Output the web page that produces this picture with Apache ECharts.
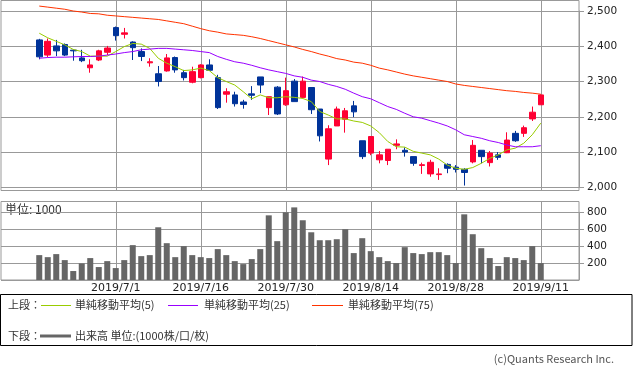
<!DOCTYPE html>
<html><head><meta charset="utf-8">
<script src="https://cdn.jsdelivr.net/npm/echarts@6/dist/echarts.min.js"></script>
<style>html,body{margin:0;padding:0;background:#fff}#c{width:633px;height:373px}</style>
</head><body><div id="c"></div>
<script>
const dates = ['2019/6/18','2019/6/19','2019/6/20','2019/6/21','2019/6/24','2019/6/25','2019/6/26','2019/6/27','2019/6/28',
'2019/7/1','2019/7/2','2019/7/3','2019/7/4','2019/7/5','2019/7/8','2019/7/9','2019/7/10','2019/7/11','2019/7/12',
'2019/7/16','2019/7/17','2019/7/18','2019/7/19','2019/7/22','2019/7/23','2019/7/24','2019/7/25','2019/7/26','2019/7/29',
'2019/7/30','2019/7/31','2019/8/1','2019/8/2','2019/8/5','2019/8/6','2019/8/7','2019/8/8','2019/8/9','2019/8/13',
'2019/8/14','2019/8/15','2019/8/16','2019/8/19','2019/8/20','2019/8/21','2019/8/22','2019/8/23','2019/8/26','2019/8/27',
'2019/8/28','2019/8/29','2019/8/30','2019/9/2','2019/9/3','2019/9/4','2019/9/5','2019/9/6','2019/9/9','2019/9/10',
'2019/9/11'];
const tickLabels = ['2019/7/1','2019/7/16','2019/7/30','2019/8/14','2019/8/28','2019/9/11'];
const open  = [2418,2375,2401,2405,2389,2367,2339,2361,2383,2453,2434,2412,2385,2353,2322,2330,2368,2325,2298,2311,2347,2311,2264,2262,2242,2265,2313,2226,2284,2234,2301,2255,2283,2222,2080,2174,2193,2231,2132,2097,2078,2076,2119,2105,2087,2062,2038,2036,2065,2057,2051,2072,2105,2070,2092,2098,2153,2153,2194,2234];
const close = [2370,2414,2387,2375,2387,2359,2347,2387,2395,2430,2438,2396,2371,2356,2300,2367,2333,2311,2328,2347,2332,2226,2271,2237,2235,2261,2290,2257,2208,2274,2243,2301,2220,2146,2166,2222,2217,2214,2087,2144,2092,2108,2123,2100,2068,2064,2071,2038,2054,2051,2042,2119,2087,2097,2085,2134,2132,2169,2213,2262];
const low   = [2363,2369,2372,2372,2359,2355,2325,2358,2375,2416,2422,2361,2358,2342,2286,2328,2325,2303,2295,2309,2330,2222,2240,2229,2223,2248,2267,2205,2205,2231,2243,2252,2208,2130,2063,2174,2155,2199,2080,2091,2068,2063,2108,2087,2061,2038,2030,2021,2040,2042,2005,2068,2068,2059,2078,2097,2129,2143,2188,2234];
const high  = [2421,2422,2418,2408,2391,2390,2363,2390,2401,2456,2452,2414,2394,2366,2344,2378,2371,2333,2342,2349,2363,2319,2281,2271,2248,2287,2313,2257,2287,2311,2307,2314,2283,2222,2176,2229,2225,2245,2132,2144,2103,2108,2136,2113,2087,2070,2078,2054,2068,2063,2054,2134,2105,2103,2100,2156,2160,2175,2229,2264];
const ma5  = [2437,2424,2414,2404,2391,2385,2372,2372,2372,2385,2399,2408,2406,2394,2366,2352,2342,2331,2333,2338,2331,2311,2300,2290,2271,2251,2262,2254,2254,2257,2255,2252,2243,2215,2205,2194,2194,2188,2184,2174,2155,2130,2115,2114,2102,2097,2092,2080,2063,2054,2051,2056,2068,2082,2092,2106,2111,2125,2149,2182];
const ma25 = [2366,2368,2369,2369,2370,2371,2371,2372,2375,2378,2382,2385,2390,2392,2394,2394,2392,2390,2388,2385,2382,2371,2363,2356,2352,2346,2339,2333,2328,2323,2316,2312,2304,2300,2292,2286,2278,2267,2257,2251,2240,2229,2221,2210,2200,2196,2189,2182,2174,2163,2149,2144,2139,2132,2127,2120,2115,2115,2115,2118];
const ma75 = [2514,2511,2508,2505,2500,2497,2493,2492,2488,2486,2484,2482,2480,2478,2476,2472,2468,2464,2457,2450,2444,2440,2435,2433,2431,2427,2422,2416,2410,2404,2398,2391,2385,2378,2372,2365,2361,2355,2352,2346,2338,2333,2327,2321,2316,2312,2308,2304,2300,2293,2289,2286,2283,2280,2277,2274,2272,2269,2267,2264];
const volume = [294,270,306,235,106,196,259,153,223,141,235,412,282,294,623,435,270,400,294,270,259,365,294,223,188,247,365,764,459,800,858,706,564,470,470,482,600,318,494,341,270,223,200,388,318,306,329,329,294,200,776,541,376,259,165,270,259,235,400,200];
const priceTicks = [2000, 2500, 100];
const volTicks = [0, 800, 200];

const PAD_L = 4, PAD_R = 4;
const cats = [];
for (let i = 0; i < PAD_L; i++) cats.push('_L' + i);
dates.forEach(d => cats.push(d));
for (let i = 0; i < PAD_R; i++) cats.push('_R' + i);
const ohlc = dates.map((d, i) => [d, open[i], close[i], low[i], high[i]]);
const pair = arr => dates.map((d, i) => [d, arr[i]]);
const showTick = (idx, val) => tickLabels.indexOf(val) >= 0;

const GRID = '#999';
const LF = 'DejaVu Sans';
const JF = 'Noto Sans CJK JP';
const GL = 1, GW = 578;
const xBase = {type: 'category', data: cats, boundaryGap: true,
  axisLine: {show: false}, axisTick: {show: false}, axisLabel: {show: false}, splitLine: {show: false}};
const vSplit = {show: true, interval: showTick, alignWithLabel: true, lineStyle: {color: GRID, width: 1}};
const yLab = {margin: 8, fontSize: 10.5, fontFamily: LF, color: '#222'};

const chart = echarts.init(document.getElementById('c'));
chart.setOption({
  animation: false,
  backgroundColor: '#fff',
  grid: [
    {left: GL, width: GW, top: 11, height: 176.3},
    {left: GL, width: GW, top: 0.5, height: 190, show: true, borderColor: GRID, borderWidth: 1},
    {left: GL, width: GW, top: 212.3, height: 67.7},
    {left: GL, width: GW, top: 201.5, height: 78.5, show: true, borderColor: GRID, borderWidth: 1}
  ],
  xAxis: [
    Object.assign({}, xBase, {gridIndex: 0}),
    Object.assign({}, xBase, {gridIndex: 1, splitLine: vSplit}),
    Object.assign({}, xBase, {gridIndex: 2, axisLabel: {show: true, interval: showTick, margin: 3, fontSize: 11, fontFamily: LF, color: '#222'}}),
    Object.assign({}, xBase, {gridIndex: 3, splitLine: vSplit})
  ],
  yAxis: [
    {type: 'value', gridIndex: 0, position: 'right', min: priceTicks[0], max: priceTicks[1], interval: priceTicks[2],
     axisLine: {show: true, lineStyle: {color: GRID}}, axisTick: {show: true, length: 5, lineStyle: {color: GRID}},
     axisLabel: Object.assign({}, yLab, {formatter: v => v.toLocaleString('en-US')}),
     splitLine: {show: true, lineStyle: {color: GRID, width: 1}}},
    {type: 'value', gridIndex: 1, show: false, min: 0, max: 1},
    {type: 'value', gridIndex: 2, position: 'right', min: volTicks[0], max: volTicks[1], interval: volTicks[2],
     axisLine: {show: true, lineStyle: {color: GRID}}, axisTick: {show: true, length: 5, lineStyle: {color: GRID}},
     axisLabel: Object.assign({}, yLab, {showMinLabel: false}),
     splitLine: {show: true, lineStyle: {color: GRID, width: 1}}},
    {type: 'value', gridIndex: 3, show: false, min: 0, max: 1}
  ],
  series: [
    {type: 'candlestick', xAxisIndex: 0, yAxisIndex: 0, data: ohlc, encode: {x: 0, y: [1, 2, 3, 4]}, barWidth: 6, clip: false,
     itemStyle: {color: '#ff0033', color0: '#003399', borderColor: '#ff0033', borderColor0: '#003399', borderWidth: 1}},
    {type: 'line', name: '単純移動平均(5)', xAxisIndex: 0, yAxisIndex: 0, data: pair(ma5), symbol: 'none', clip: false,
     lineStyle: {color: '#99cc00', width: 1}},
    {type: 'line', name: '単純移動平均(25)', xAxisIndex: 0, yAxisIndex: 0, data: pair(ma25), symbol: 'none', clip: false,
     lineStyle: {color: '#9900ff', width: 1}},
    {type: 'line', name: '単純移動平均(75)', xAxisIndex: 0, yAxisIndex: 0, data: pair(ma75), symbol: 'none', clip: false,
     lineStyle: {color: '#ff3300', width: 1}},
    {type: 'bar', name: '出来高', xAxisIndex: 2, yAxisIndex: 2, data: pair(volume), barWidth: 6, clip: false,
     itemStyle: {color: '#666666'}}
  ],
  graphic: [
    {type: 'text', x: 5, y: 209, style: {text: '単位: 1000', font: '12px "' + JF + '"', fill: '#333', verticalAlign: 'middle'}},
    {type: 'rect', shape: {x: 0.5, y: 294.5, width: 631.5, height: 51}, style: {fill: 'none', stroke: '#000', lineWidth: 1}},
    {type: 'text', x: 8, y: 305, style: {text: '上段：', font: '11px "' + JF + '"', fill: '#333', verticalAlign: 'middle'}},
    {type: 'line', shape: {x1: 41, y1: 305.5, x2: 71, y2: 305.5}, style: {stroke: '#99cc00', lineWidth: 1}},
    {type: 'text', x: 75, y: 305, style: {text: '単純移動平均(5)', font: '11px "' + JF + '"', fill: '#333', verticalAlign: 'middle'}},
    {type: 'line', shape: {x1: 168, y1: 305.5, x2: 198, y2: 305.5}, style: {stroke: '#9900ff', lineWidth: 1}},
    {type: 'text', x: 204, y: 305, style: {text: '単純移動平均(25)', font: '11px "' + JF + '"', fill: '#333', verticalAlign: 'middle'}},
    {type: 'line', shape: {x1: 312, y1: 305.5, x2: 343, y2: 305.5}, style: {stroke: '#ff3300', lineWidth: 1}},
    {type: 'text', x: 348, y: 305, style: {text: '単純移動平均(75)', font: '11px "' + JF + '"', fill: '#333', verticalAlign: 'middle'}},
    {type: 'text', x: 8, y: 336, style: {text: '下段：', font: '11px "' + JF + '"', fill: '#333', verticalAlign: 'middle'}},
    {type: 'line', shape: {x1: 40, y1: 336, x2: 71, y2: 336}, style: {stroke: '#666666', lineWidth: 3}},
    {type: 'text', x: 75, y: 336, style: {text: '出来高 単位:(1000株/口/枚)', font: '11px "' + JF + '"', fill: '#333', verticalAlign: 'middle'}},
    {type: 'text', x: 614, y: 359, style: {text: '(c)Quants Research Inc.', font: '11px "' + JF + '"', fill: '#555', align: 'right', verticalAlign: 'middle'}}
  ]
});
</script>
</body></html>
